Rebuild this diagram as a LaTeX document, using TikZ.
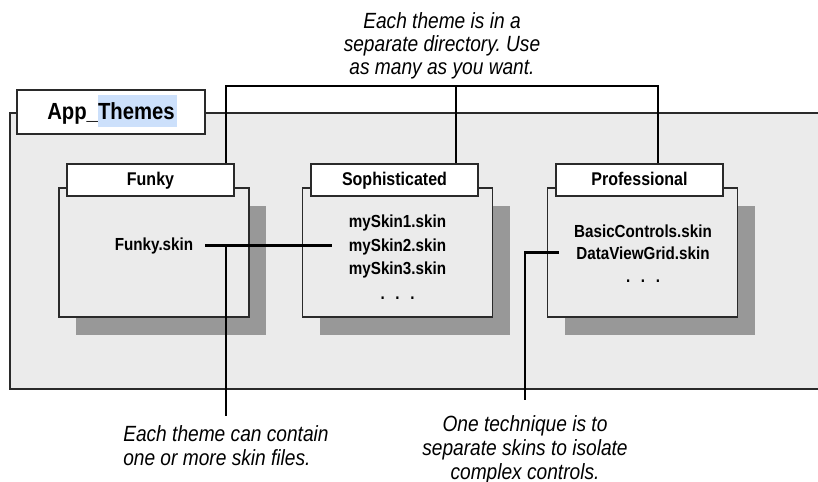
\documentclass[tikz,border=0pt]{standalone}
\usepackage{fontspec}
\setmainfont[FakeStretch=0.87]{Liberation Sans}
\usetikzlibrary{calc}
\definecolor{panelgray}{HTML}{EBEBEB}
\definecolor{shadowgray}{HTML}{989898}
\definecolor{edge}{HTML}{2A2A2A}
\definecolor{hilite}{HTML}{CCE0FB}
\frenchspacing
\begin{document}
\begin{tikzpicture}[x=0.75pt,y=-0.75pt,
  titlebox/.style={draw=edge, line width=1pt, fill=white, minimum width=125.25pt,
    minimum height=24pt, inner sep=0pt, font=\fontsize{13.8}{16}\selectfont\bfseries,
    text height=11pt, text depth=3.5pt},
  bodybox/.style={draw=edge, line width=1pt, fill=panelgray, minimum width=142.5pt,
    minimum height=96.75pt, inner sep=0pt},
  shadowbox/.style={fill=shadowgray, minimum width=142.5pt, minimum height=96.75pt,
    inner sep=0pt},
  skin/.style={font=\fontsize{13.1}{16}\selectfont\bfseries, inner sep=0pt, anchor=base},
  note/.style={font=\fontsize{16.5}{18}\selectfont\itshape, inner sep=0pt, align=center},
  conn/.style={line width=2pt, black}]
\useasboundingbox (0,0) rectangle (818,482);

% folder panel, open to the right
\fill[panelgray] (10,113) rectangle (818,389);
\draw[edge, line width=1pt] (818,113) -- (10,113) -- (10,389) -- (818,389);

% root folder label
\node[draw=edge, line width=1pt, fill=white, minimum width=141pt, minimum height=33pt,
  inner sep=0pt] (app) at (111,112) {};
\fill[hilite] (98,95) rectangle (177,127);
\node[font=\fontsize{17.5}{20}\selectfont\bfseries, inner sep=0pt, anchor=base]
  (apptxt) at (111,119) {App\_Themes};

% theme folders: shadow, body, title
\node[shadowbox] (funkyS) at (171,270.5) {};
\node[bodybox] (funkyB) at (154,252.5) {};
\node[titlebox] (funkyT) at (150.5,180) {Funky};

\node[shadowbox] (sophS) at (415,270.5) {};
\node[bodybox] (sophB) at (397.5,252.5) {};
\node[titlebox] (sophT) at (394.5,180) {Sophisticated};

\node[shadowbox] (profS) at (660,270.5) {};
\node[bodybox] (profB) at (642.5,252.5) {};
\node[titlebox] (profT) at (639.5,180) {Professional};

% skin files
\node[skin] (fs) at (154,250) {Funky.skin};

\node[skin] (s1) at (397.5,227) {mySkin1.skin};
\node[skin] (s2) at (397.5,251) {mySkin2.skin};
\node[skin] (s3) at (397.5,274) {mySkin3.skin};
\node[skin] (sdots) at (397.5,299) {.\hspace{8pt}.\hspace{8pt}.};

\node[skin] (pb) at (643,237) {BasicControls.skin};
\node[skin] (pd) at (643,259) {DataViewGrid.skin};
\node[skin] (pdots) at (643,282) {.\hspace{8pt}.\hspace{8pt}.};

% callouts
\node[note, font=\fontsize{16.5}{17.25}\selectfont\itshape, anchor=north]
  (topnote) at (442,12) {Each theme is in a\\separate directory. Use\\as many as you want.};
\node[note, align=left, anchor=north west, inner ysep=6.75pt]
  (annL) at (123,416) {Each theme can contain\\one or more skin files.};
\node[note, anchor=north, inner ysep=11.25pt]
  (annR) at (525,400) {One technique is to\\separate skins to isolate\\complex controls.};

% connectors
\coordinate (j1) at (226,86);
\coordinate (j2) at (456,86);
\coordinate (j3) at (658,86);
\draw[conn] (funkyT.north -| j1) -- (j1) -- (j3) -- (profT.north -| j3);
\draw[conn] (j2) -- (sophT.north -| j2);
\draw[conn] ([xshift=9pt]fs.east) -- ([xshift=-12.75pt]fs.east -| s2.west);
\draw[conn] (annL.north |- fs.east) -- (annL.north);
\draw[conn] ([xshift=-12.75pt]pd.west) -| (annR.north);
\end{tikzpicture}
\end{document}
